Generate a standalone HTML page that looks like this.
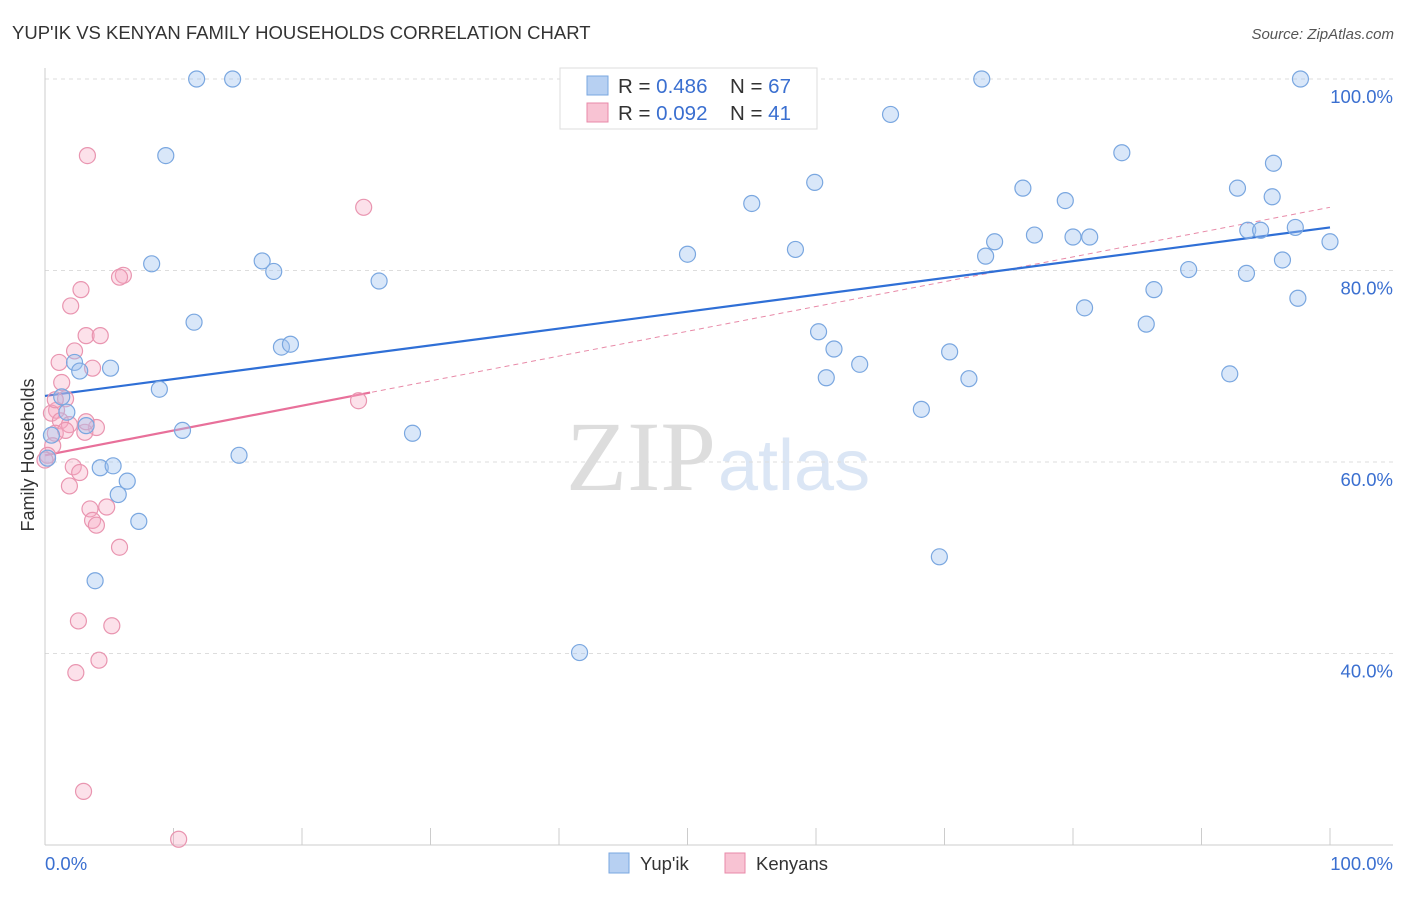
<!DOCTYPE html>
<html><head><meta charset="utf-8"><style>
body{margin:0;background:#fff;font-family:"Liberation Sans",sans-serif}
svg text{font-family:"Liberation Sans",sans-serif}
</style></head><body>
<svg id="c" width="1406" height="892" xmlns="http://www.w3.org/2000/svg">
<text x="12" y="39" font-size="18.5" fill="#333">YUP'IK VS KENYAN FAMILY HOUSEHOLDS CORRELATION CHART</text>
<text x="1394" y="39" font-size="15" fill="#555" font-style="italic" text-anchor="end">Source: ZipAtlas.com</text>
<text x="716" y="490" font-size="100" fill="#ddd" text-anchor="end" style="font-family:'Liberation Serif',serif">ZIP</text>
<text x="718" y="490" font-size="72" fill="#dbe6f5">atlas</text>
<text x="34" y="455" font-size="18" fill="#333" text-anchor="middle" transform="rotate(-90 34 455)">Family Households</text>
<g id="grid"></g><g id="lines"></g><g id="pts"></g>
<g>
<rect x="560" y="68" width="257" height="61" fill="#fff" stroke="#ddd"/>
<rect x="587" y="76" width="21" height="19" fill="#b7d0f2" stroke="#7aa7e0"/>
<rect x="587" y="103" width="21" height="19" fill="#f8c3d3" stroke="#e88aa8"/>
<text x="618" y="93" font-size="20.5" fill="#333">R = <tspan fill="#3a6fd0">0.486</tspan></text>
<text x="730" y="93" font-size="20.5" fill="#333">N = <tspan fill="#3a6fd0">67</tspan></text>
<text x="618" y="120" font-size="20.5" fill="#333">R = <tspan fill="#3a6fd0">0.092</tspan></text>
<text x="730" y="120" font-size="20.5" fill="#333">N = <tspan fill="#3a6fd0"> 41</tspan></text>
</g>
<g>
<rect x="609" y="853" width="20" height="20" fill="#b7d0f2" stroke="#7aa7e0"/>
<text x="640" y="870" font-size="18.5" fill="#333">Yup'ik</text>
<rect x="725" y="853" width="20" height="20" fill="#f8c3d3" stroke="#e88aa8"/>
<text x="756" y="870" font-size="18.5" fill="#333">Kenyans</text>
</g>
</svg>
<script>
const yTicks=[100,80,60,40];
const yTickLabels=["100.0%","80.0%","60.0%","40.0%"];
const blueX=[11.8,14.6,72.9,97.7,65.8,9.4,83.8,95.6,59.9,76.1,92.8,95.5,55.0,79.4,97.3,93.6,94.6,77.0,80.0,81.3,73.9,100,50.0,58.4,73.2,8.3,16.9,96.3,17.8,89.0,93.5,26.0,86.3,80.9,97.5,11.6,85.7,60.2,18.4,19.1,61.4,70.4,2.3,5.1,2.7,63.4,60.8,71.9,92.2,8.9,1.3,1.7,68.2,3.2,10.7,28.6,0.5,15.1,0.2,4.3,5.3,6.4,5.7,7.3,69.6,3.9,41.6];
const blueY=[100,100,100,100,96.3,92.0,92.3,91.2,89.2,88.6,88.6,87.7,87.0,87.3,84.5,84.2,84.2,83.7,83.5,83.5,83.0,83.0,81.7,82.2,81.5,80.7,81.0,81.1,79.9,80.1,79.7,78.9,78.0,76.1,77.1,74.6,74.4,73.6,72.0,72.3,71.8,71.5,70.4,69.8,69.5,70.2,68.8,68.7,69.2,67.6,66.8,65.2,65.5,63.8,63.3,63.0,62.8,60.7,60.4,59.4,59.6,58.0,56.6,53.8,50.1,47.6,40.1];
const pinkX=[3.3,24.8,6.1,5.8,2.8,2.0,3.2,4.3,2.3,1.1,3.7,1.3,1.6,0.9,0.5,24.4,1.2,1.9,4.0,3.1,0.8,0.6,0.2,0,2.2,2.7,1.9,4.8,3.5,3.7,4.0,5.8,2.6,5.2,4.2,2.4,3.0,10.4,0.8,1.6,3.2];
const pinkY=[92.0,86.6,79.5,79.3,78.0,76.3,73.2,73.2,71.6,70.4,69.8,68.3,66.6,65.4,65.1,66.4,64.3,63.9,63.6,63.1,63.0,61.7,60.7,60.2,59.5,58.9,57.5,55.3,55.1,53.9,53.4,51.1,43.4,42.9,39.3,38.0,25.6,20.6,66.5,63.3,64.2];
const blueTrend=[66.9,84.5];
const pinkTrend=[60.7,86.6];
const pinkSolidEnd=25.3;
const X=v=>45+v*12.85, Y=v=>79+(100-v)*9.575;
const NS="http://www.w3.org/2000/svg";
function mk(t,a,p){const e=document.createElementNS(NS,t);for(const k in a)e.setAttribute(k,a[k]);p.appendChild(e);return e;}
const g=document.getElementById('grid');
yTicks.forEach((t,i)=>{
 const l=mk('line',{x1:45,x2:1393,y1:Y(t),y2:Y(t),stroke:'#ddd','stroke-dasharray':'4,4'},g);
 
 
 const tx=mk('text',{x:1393,y:Y(t)+24,'font-size':18.5,fill:'#3a6fd0','text-anchor':'end'},g);
 tx.textContent=yTickLabels[i];
 
 
});
mk('line',{x1:45,x2:45,y1:68,y2:845,stroke:'#ccc'},g);
mk('line',{x1:45,x2:1393,y1:845,y2:845,stroke:'#ccc'},g);
for(let i=1;i<=10;i++){const t=mk('line',{x1:X(i*10),x2:X(i*10),y1:828,y2:845,stroke:'#ccc'},g);
 
 }
let a=mk('text',{x:45,y:870,'font-size':18.5,fill:'#3a6fd0'},g);a.textContent='0.0%';


a=mk('text',{x:1393,y:870,'font-size':18.5,fill:'#3a6fd0','text-anchor':'end'},g);a.textContent='100.0%';


const P=document.getElementById('pts');
pinkX.forEach((x,i)=>{const c=mk('circle',{cx:X(x),cy:Y(pinkY[i]),r:8,fill:'rgba(245,170,195,0.35)',stroke:'#e995b0','stroke-width':1.2},P);
 
 });
blueX.forEach((x,i)=>{const c=mk('circle',{cx:X(x),cy:Y(blueY[i]),r:8,fill:'rgba(160,195,240,0.4)',stroke:'#7aa7e0','stroke-width':1.2},P);
 
 });
const L=document.getElementById('lines');
const pm=(v)=>pinkTrend[0]+(pinkTrend[1]-pinkTrend[0])*v/100;
let l=mk('line',{x1:X(0),y1:Y(pinkTrend[0]),x2:X(100),y2:Y(pinkTrend[1]),stroke:'#e88aa8','stroke-dasharray':'5,4','stroke-width':1},L);


l=mk('line',{x1:X(0),y1:Y(pinkTrend[0]),x2:X(pinkSolidEnd),y2:Y(pm(pinkSolidEnd)),stroke:'#e8709a','stroke-width':2.2},L);


l=mk('line',{x1:X(0),y1:Y(blueTrend[0]),x2:X(100),y2:Y(blueTrend[1]),stroke:'#2f6fd6','stroke-width':2.2},L);


</script>
</body></html>
